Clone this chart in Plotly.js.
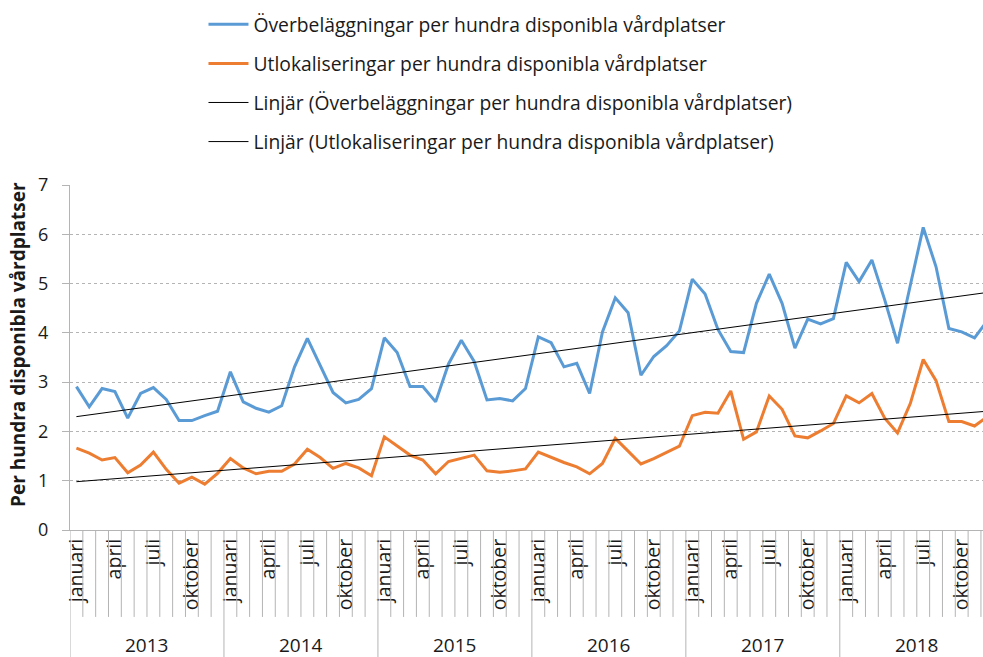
<!DOCTYPE html>
<html><head><meta charset="utf-8">
<script src="https://cdn.plot.ly/plotly-3.0.1.min.js"></script>
<style>html,body{margin:0;padding:0;overflow:hidden;background:#fff}</style>
</head><body><div id="chart" style="width:983px;height:657px"></div>
<script>
const years = ['2013','2014','2015','2016','2017','2018'];
const months = ['januari','februari','mars','april','maj','juni','juli','augusti','september','oktober','november','december'];
const shownMonths = ['januari','april','juli','oktober'];

const overbelaggningar = [
  2.91, 2.50, 2.87, 2.81, 2.27, 2.77, 2.89, 2.65, 2.22, 2.22, 2.32, 2.41,
  3.21, 2.60, 2.47, 2.39, 2.52, 3.31, 3.89, 3.35, 2.79, 2.58, 2.65, 2.87,
  3.90, 3.60, 2.91, 2.91, 2.60, 3.37, 3.85, 3.42, 2.64, 2.67, 2.62, 2.87,
  3.92, 3.80, 3.31, 3.38, 2.77, 4.02, 4.71, 4.41, 3.14, 3.52, 3.74, 4.04,
  5.09, 4.79, 4.07, 3.62, 3.60, 4.60, 5.19, 4.60, 3.69, 4.28, 4.18, 4.29,
  5.43, 5.04, 5.48, 4.67, 3.79, 4.97, 6.14, 5.34, 4.09, 4.02, 3.90, 4.25
];
const utlokaliseringar = [
  1.66, 1.56, 1.42, 1.47, 1.16, 1.32, 1.58, 1.23, 0.95, 1.07, 0.93, 1.15,
  1.45, 1.26, 1.14, 1.19, 1.19, 1.34, 1.64, 1.47, 1.25, 1.35, 1.26, 1.10,
  1.89, 1.70, 1.52, 1.42, 1.14, 1.39, 1.45, 1.52, 1.20, 1.17, 1.20, 1.24,
  1.58, 1.47, 1.37, 1.28, 1.14, 1.35, 1.86, 1.60, 1.34, 1.45, 1.57, 1.70,
  2.32, 2.39, 2.37, 2.82, 1.84, 1.99, 2.72, 2.45, 1.91, 1.87, 2.01, 2.16,
  2.72, 2.58, 2.77, 2.27, 1.97, 2.57, 3.46, 3.03, 2.20, 2.20, 2.11, 2.30
];
// Linear trend endpoints (first and last month)
const trendOver = [2.30, 4.82];
const trendUtlok = [0.98, 2.41];

const names = [
  'Överbeläggningar per hundra disponibla vårdplatser',
  'Utlokaliseringar per hundra disponibla vårdplatser',
  'Linjär (Överbeläggningar per hundra disponibla vårdplatser)',
  'Linjär (Utlokaliseringar per hundra disponibla vårdplatser)'
];
const yTitle = 'Per hundra disponibla vårdplatser';

const cats = [];
years.forEach(y => months.forEach(m => cats.push(m + ' ' + y)));
const tickvals = cats.filter(c => shownMonths.includes(c.split(' ')[0]));
const ticktext = tickvals.map(c => c.split(' ')[0]);
const trendX = [cats[0], cats[cats.length - 1]];

const FONT = '"Open Sans", Lato, sans-serif';
const GRID = '#b4b4b4';
const TXT = '#1a1a1a';

const traces = [
  {x: cats, y: overbelaggningar, name: names[0], type: 'scatter', mode: 'lines',
   line: {color: '#5B9BD5', width: 3}, legendgroup: 'a'},
  {x: cats, y: utlokaliseringar, name: names[1], type: 'scatter', mode: 'lines',
   line: {color: '#ED7D31', width: 3}, legendgroup: 'b'},
  {x: trendX, y: trendOver, name: names[2], type: 'scatter', mode: 'lines',
   line: {color: '#000000', width: 1}, legendgroup: 'c'},
  {x: trendX, y: trendUtlok, name: names[3], type: 'scatter', mode: 'lines',
   line: {color: '#000000', width: 1}, legendgroup: 'd'}
];

const shapes = [];
for (let k = 0; k <= cats.length; k++) {
  const isYear = k % 12 === 0;
  shapes.push({type: 'line', xref: 'x', yref: 'paper', x0: k - 0.5, x1: k - 0.5,
    y0: 0, y1: isYear ? -0.37 : -0.252, line: {color: GRID, width: 1}});
}
const annotations = years.map((y, i) => ({
  xref: 'x', yref: 'paper', x: i * 12 + 5.5, y: -0.333, text: y, showarrow: false,
  xanchor: 'center', yanchor: 'middle', font: {family: FONT, size: 19, color: TXT}
}));
annotations.push({xref: 'paper', yref: 'paper', x: -0.057, y: 0.539, text: '<b>' + yTitle + '</b>',
  textangle: -90, showarrow: false, xanchor: 'center', yanchor: 'middle',
  font: {family: FONT, size: 19, color: TXT}});

const layout = {
  width: 983, height: 657,
  margin: {l: 70, r: 0, t: 185, b: 127, autoexpand: false},
  paper_bgcolor: '#ffffff', plot_bgcolor: '#ffffff',
  font: {family: FONT, size: 18, color: TXT},
  showlegend: true,
  legend: {xref: 'container', yref: 'container', x: 0.207, y: 0.992, xanchor: 'left', yanchor: 'top',
    traceorder: 'grouped', tracegroupgap: 11, itemwidth: 40,
    font: {family: FONT, size: 19.3, color: TXT}, bgcolor: 'rgba(0,0,0,0)'},
  xaxis: {type: 'category', range: [-0.5, 70.66], showgrid: false, showline: true,
    linecolor: GRID, linewidth: 1, ticks: '', tickvals: tickvals, ticktext: ticktext,
    tickangle: -90, tickfont: {family: FONT, size: 19.5, color: TXT}, zeroline: false,
    automargin: false},
  yaxis: {range: [0, 7], dtick: 1, showgrid: true, gridcolor: GRID, griddash: 'dot', gridwidth: 1,
    showline: true, linecolor: GRID, linewidth: 1, ticks: 'outside', ticklen: 7, tickcolor: GRID,
    ticklabelstandoff: 10, zeroline: false, automargin: false,
    tickfont: {family: FONT, size: 18, color: TXT}},
  shapes: shapes,
  annotations: annotations
};

Plotly.newPlot('chart', traces, layout, {displayModeBar: false, staticPlot: true});
</script></body></html>
